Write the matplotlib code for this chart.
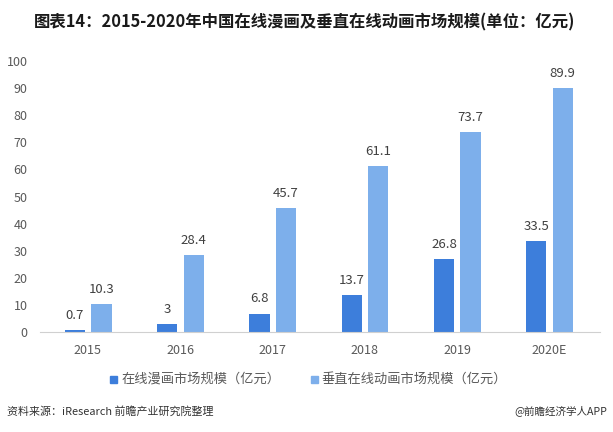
import matplotlib.pyplot as plt
from matplotlib.patches import Rectangle

plt.rcParams['font.family'] = ['Noto Sans CJK SC', 'DejaVu Sans']

years = ['2015', '2016', '2017', '2018', '2019', '2020E']
comic = [0.7, 3, 6.8, 13.7, 26.8, 33.5]
animation = [10.3, 28.4, 45.7, 61.1, 73.7, 89.9]
y_ticks = [0, 10, 20, 30, 40, 50, 60, 70, 80, 90, 100]

comic_name = '在线漫画市场规模（亿元）'
anim_name = '垂直在线动画市场规模（亿元）'

dark = '#3D7EDB'
light = '#7DAFEB'
text_gray = '#595959'


def fmt(v):
    # show integers without decimal part, like the source
    return str(int(v)) if float(v).is_integer() else f"{v:g}"


def main():
    fig = plt.figure(figsize=(6.13, 4.32), dpi=100)
    W, H = 613, 432
    ax = fig.add_axes([40 / W, (H - 332) / H, 560 / W, 271 / H])

    x = list(range(len(years)))
    w = 0.22
    ax.bar([i - 0.141 for i in x], comic, width=w, color=dark, zorder=2)
    ax.bar([i + 0.146 for i in x], animation, width=w, color=light, zorder=2)

    for i in x:
        ax.text(i - 0.141, comic[i] + 3.0, fmt(comic[i]), ha='center', va='bottom',
                fontsize=9.5, color='#404040')
        ax.text(i + 0.146, animation[i] + 3.0, fmt(animation[i]), ha='center',
                va='bottom', fontsize=9.5, color='#404040')

    ax.set_xlim(-0.52, 5.55)
    ax.set_ylim(0, 100)
    ax.set_yticks(y_ticks)
    ax.set_xticks(x)
    ax.set_xticklabels(years)
    ax.tick_params(axis='both', length=0, labelsize=9, colors=text_gray)
    ax.tick_params(axis='x', pad=9)
    ax.tick_params(axis='y', pad=9)

    for side in ['top', 'right', 'left']:
        ax.spines[side].set_visible(False)
    ax.spines['bottom'].set_color('#d0d0d0')

    # title
    fig.text(305 / W, 1 - 22 / H, '图表14：2015-2020年中国在线漫画及垂直在线动画市场规模(单位：亿元)',
             ha='center', va='center', fontsize=11.8, fontweight='bold', color='#1a1a1a')

    # legend built by hand to match placement
    ly = 1 - 379 / H
    fig.patches.append(Rectangle((110 / W, ly - 3.5 / H), 7 / W, 7 / H,
                                 transform=fig.transFigure, color=dark))
    fig.text(122 / W, ly, comic_name, ha='left', va='center', fontsize=9.5, color=text_gray)
    fig.patches.append(Rectangle((311 / W, ly - 3.5 / H), 7 / W, 7 / H,
                                 transform=fig.transFigure, color=light))
    fig.text(321 / W, ly, anim_name, ha='left', va='center', fontsize=9.5, color=text_gray)

    # footer
    fig.text(7 / W, 1 - 411 / H, '资料来源：iResearch 前瞻产业研究院整理', ha='left', va='center',
             fontsize=7.9, color='#333333')
    fig.text(607 / W, 1 - 411 / H, '@前瞻经济学人APP', ha='right', va='center',
             fontsize=7.6, color='#333333')

    fig.savefig('out.png', dpi=100, facecolor='white')


if __name__ == "__main__":
    main()
